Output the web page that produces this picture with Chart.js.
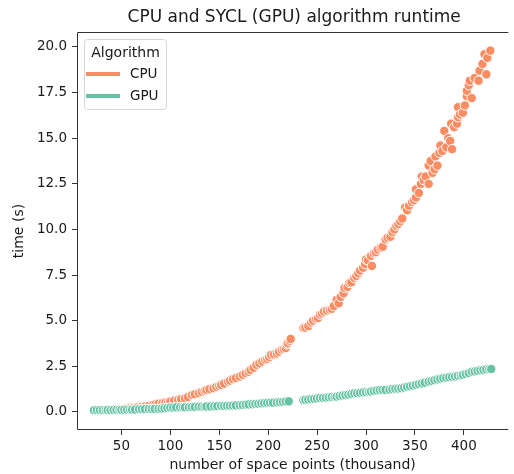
<!DOCTYPE html>
<html>
<head>
<meta charset="utf-8">
<script src="https://cdn.jsdelivr.net/npm/chart.js@4"></script>
<style>
  body { margin: 0; background: #fff; }
  .chart-container { width: 514px; height: 474px; position: relative; }
</style>
</head>
<body>
<div class="chart-container">
  <canvas id="chart"></canvas>
</div>
<script>
// values (x in thousand points, y in seconds)
const cpuX = [22, 26, 30, 34, 38, 42, 46, 50, 54, 58, 62, 66, 70, 74, 78, 82, 85, 88, 92, 95,
  98, 100, 104, 108, 111, 115, 118, 122, 125, 129, 132, 135, 137, 140, 144, 147, 150, 152, 155, 159,
  161, 164, 167, 171, 174, 177, 180, 182, 185, 188, 191, 194, 197, 199, 201, 203, 206, 209, 211, 214,
  216, 218, 219, 220, 222, 223,
  236, 238, 241, 244, 246, 249, 251, 253, 255, 257, 260, 263, 265, 267, 270, 272, 274, 277, 278, 281,
  283, 285, 288, 290, 292, 294, 297, 299, 300, 302, 305, 306, 308, 310, 312, 315, 317, 320, 322, 325,
  327, 329, 331, 333, 335, 337, 340, 342, 344, 347, 349, 351, 351, 354, 356, 357, 359, 361, 364, 364,
  366, 368, 370, 371, 373, 375, 376, 378, 380, 382, 384, 386, 387, 388, 390, 393, 394, 394, 396, 399,
  401, 403, 403, 405, 406, 408, 411, 415, 416, 419, 421, 423, 424, 427]
const cpuY = [0.05, 0.06, 0.07, 0.08, 0.10, 0.12, 0.14, 0.16, 0.18, 0.20, 0.22, 0.25, 0.27, 0.30, 0.33, 0.38, 0.42, 0.45, 0.48, 0.52,
  0.55, 0.57, 0.62, 0.66, 0.70, 0.75, 0.82, 0.93, 0.97, 1.03, 1.10, 1.16, 1.20, 1.25, 1.30, 1.38, 1.43, 1.48, 1.55, 1.66,
  1.72, 1.80, 1.86, 1.94, 2.03, 2.12, 2.20, 2.30, 2.42, 2.58, 2.66, 2.76, 2.85, 2.90, 3.00, 3.13, 3.15, 3.20, 3.30, 3.40,
  3.45, 3.50, 3.70, 3.77, 3.90, 4.00,
  4.60, 4.62, 4.70, 4.90, 5.00, 5.10, 5.15, 5.33, 5.40, 5.50, 5.55, 5.60, 5.65, 5.80, 6.15, 5.95, 6.30, 6.50, 6.80, 6.85,
  7.07, 7.10, 7.35, 7.45, 7.60, 7.75, 7.90, 8.10, 8.35, 8.30, 8.55, 8.00, 8.70, 8.75, 8.90, 9.00, 9.05, 9.45, 9.55, 9.60,
  9.85, 10.0, 10.2, 10.3, 10.45, 10.6, 11.2, 11.05, 11.3, 11.5, 11.6, 11.75, 12.2, 12.0, 12.5, 12.9, 12.7, 12.9, 13.5, 12.5,
  13.75, 13.1, 13.3, 14.0, 13.5, 14.2, 14.6, 14.3, 15.4, 14.5, 15.0, 14.85, 15.8, 14.4, 15.6, 15.8, 16.15, 16.7, 16.3, 16.4,
  16.8, 17.3, 17.6, 17.9, 18.15, 17.2, 18.3, 18.15, 18.7, 19.07, 19.6, 18.5, 19.4, 19.8]

const gpuX = [22, 25, 28, 31, 34, 36, 39, 42, 45, 48, 50, 53, 56, 59, 61, 64, 68, 71, 74, 78,
  81, 84, 88, 91, 94, 97, 100, 103, 106, 110, 113, 115, 119, 122, 125, 129, 132, 135, 137, 141,
  145, 148, 152, 155, 158, 161, 164, 167, 171, 174, 177, 180, 184, 187, 190, 193, 196, 199, 202, 205,
  209, 212, 215, 218, 221,
  236, 238, 241, 244, 247, 250, 253, 256, 259, 262, 265, 268, 270, 273, 276, 279, 282, 285, 288, 291,
  294, 297, 300, 303, 305, 308, 311, 314, 317, 320, 324, 327, 330, 333, 336, 339, 342, 345, 348, 351,
  354, 357, 360, 364, 367, 370, 373, 376, 379, 382, 385, 388, 391, 394, 397, 399, 402, 405, 408, 411,
  414, 417, 420, 423, 426, 428]
const gpuY = [0.10, 0.10, 0.10, 0.10, 0.10, 0.11, 0.10, 0.11, 0.11, 0.12, 0.11, 0.12, 0.12, 0.12, 0.12, 0.13, 0.15, 0.15, 0.16, 0.16,
  0.16, 0.17, 0.17, 0.18, 0.20, 0.22, 0.24, 0.24, 0.25, 0.25, 0.25, 0.25, 0.26, 0.27, 0.28, 0.29, 0.29, 0.29, 0.30, 0.30,
  0.31, 0.32, 0.33, 0.33, 0.34, 0.34, 0.35, 0.36, 0.37, 0.38, 0.40, 0.41, 0.42, 0.44, 0.45, 0.47, 0.48, 0.50, 0.51, 0.51,
  0.52, 0.54, 0.55, 0.57, 0.58,
  0.64, 0.66, 0.68, 0.70, 0.72, 0.74, 0.76, 0.77, 0.78, 0.80, 0.82, 0.83, 0.84, 0.87, 0.90, 0.92, 0.95, 0.98, 1.02, 1.03,
  1.05, 1.07, 1.08, 1.10, 1.12, 1.15, 1.18, 1.20, 1.20, 1.21, 1.22, 1.25, 1.27, 1.28, 1.30, 1.34, 1.38, 1.41, 1.44, 1.48,
  1.52, 1.56, 1.60, 1.66, 1.70, 1.74, 1.78, 1.82, 1.85, 1.88, 1.90, 1.92, 1.94, 1.98, 2.00, 2.03, 2.08, 2.13, 2.20, 2.22,
  2.25, 2.28, 2.30, 2.33, 2.35, 2.35]

const xTicks = [50, 100, 150, 200, 250, 300, 350, 400]
const yTicks = [0, 2.5, 5, 7.5, 10, 12.5, 15, 17.5, 20]
const seriesNames = ["CPU", "GPU"]
const seriesColors = ["#fc8d62", "#66c2a5"]
const chartTitle = "CPU and SYCL (GPU) algorithm runtime"

const FONT = "'DejaVu Sans', sans-serif"
const TEXT = "#1a1a1a"

const toPoints = (xs, ys) => xs.map((x, i) => ({ x: x, y: ys[i] }))

// axes frame (the right spine falls outside the picture) and title centred over the axes
const framePlugin = {
  id: "frame",
  afterDatasetsDraw(chart) {
    const { ctx, chartArea: a } = chart
    ctx.save()
    ctx.strokeStyle = "#333"
    ctx.lineWidth = 1
    ctx.beginPath()
    ctx.moveTo(a.right, a.top + 0.5)
    ctx.lineTo(a.left + 0.5, a.top + 0.5)
    ctx.lineTo(a.left + 0.5, a.bottom - 0.5)
    ctx.lineTo(a.right, a.bottom - 0.5)
    ctx.stroke()

    ctx.fillStyle = TEXT
    ctx.font = "17px " + FONT
    ctx.textAlign = "center"
    ctx.textBaseline = "middle"
    ctx.fillText(chartTitle, (a.left + a.right + 3) / 2, 18)
    ctx.restore()
  },
}

// seaborn style legend inside the axes, upper left
const legendPlugin = {
  id: "innerLegend",
  afterDraw(chart) {
    const { ctx, chartArea: a } = chart
    const x0 = a.left + 7
    const y0 = a.top + 7
    const w = 82
    const h = 70
    ctx.save()
    ctx.fillStyle = "rgba(255,255,255,0.8)"
    ctx.strokeStyle = "#d6d6d6"
    ctx.lineWidth = 1
    ctx.beginPath()
    ctx.roundRect(x0 + 0.5, y0 + 0.5, w, h, 3)
    ctx.fill()
    ctx.stroke()

    ctx.fillStyle = TEXT
    ctx.font = "14px " + FONT
    ctx.textBaseline = "middle"
    ctx.textAlign = "center"
    ctx.fillText("Algorithm", x0 + w / 2 + 0.5, y0 + 14)

    ctx.font = "13.5px " + FONT
    ctx.textAlign = "left"
    seriesNames.forEach((name, i) => {
      const cy = y0 + 35 + i * 22
      ctx.strokeStyle = seriesColors[i]
      ctx.lineWidth = 4
      ctx.beginPath()
      ctx.moveTo(x0 + 2, cy)
      ctx.lineTo(x0 + 36, cy)
      ctx.stroke()
      ctx.fillStyle = TEXT
      ctx.fillText(name, x0 + 46, cy)
    })
    ctx.restore()
  },
}

const ctx = document.getElementById("chart").getContext("2d")

new Chart(ctx, {
  type: "scatter",
  data: {
    datasets: [
      {
        label: seriesNames[0],
        data: toPoints(cpuX, cpuY),
        backgroundColor: seriesColors[0],
        borderColor: "#fff",
        borderWidth: 1,
        pointRadius: 4.7,
        order: 1,
      },
      {
        label: seriesNames[1],
        data: toPoints(gpuX, gpuY),
        backgroundColor: seriesColors[1],
        borderColor: "#fff",
        borderWidth: 1,
        pointRadius: 4.7,
        order: 0,
      },
    ],
  },
  options: {
    responsive: true,
    maintainAspectRatio: false,
    animation: false,
    layout: { padding: { left: 0, right: 0, top: 32, bottom: 0 } },
    plugins: {
      legend: { display: false },
      tooltip: { enabled: false },
      title: { display: false },
    },
    scales: {
      x: {
        type: "linear",
        min: 4.6,
        max: 445.4,
        afterFit: (s) => { s.height = 44 },
        afterBuildTicks: (s) => { s.ticks = xTicks.map((v) => ({ value: v })) },
        grid: { drawOnChartArea: false, drawTicks: true, tickLength: 5, color: "#333" },
        border: { display: false },
        ticks: { color: TEXT, font: { family: FONT, size: 13.5 }, padding: 3, maxRotation: 0 },
        title: {
          display: true,
          text: "number of space points (thousand)",
          color: TEXT,
          font: { family: FONT, size: 14, lineHeight: 1.2 },
          padding: { top: 0, bottom: 0 },
        },
      },
      y: {
        type: "linear",
        min: -0.99,
        max: 20.82,
        afterFit: (s) => { s.width = 77 },
        afterBuildTicks: (s) => { s.ticks = yTicks.map((v) => ({ value: v })) },
        grid: { drawOnChartArea: false, drawTicks: true, tickLength: 5, color: "#333" },
        border: { display: false },
        ticks: {
          color: TEXT,
          font: { family: FONT, size: 13.5 },
          padding: 5,
          callback: (v) => Number(v).toFixed(1),
        },
        title: {
          display: true,
          text: "time (s)",
          color: TEXT,
          font: { family: FONT, size: 14, lineHeight: 1.2 },
          padding: { top: 11, bottom: 0 },
        },
      },
    },
  },
  plugins: [framePlugin, legendPlugin],
})
</script>
</body>
</html>
